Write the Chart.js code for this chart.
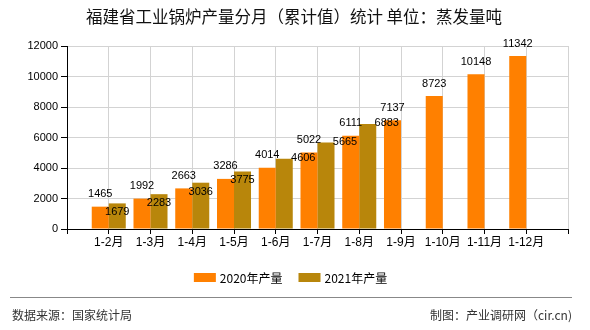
<!DOCTYPE html>
<html>
<head>
<meta charset="utf-8">
<script src="https://cdn.jsdelivr.net/npm/chart.js@4/dist/chart.umd.min.js"></script>
<style>
  body { margin: 0; background: #fff; }
  #wrap { width: 590px; height: 330px; position: relative; }
</style>
</head>
<body>
<div id="wrap"><canvas id="chart" width="590" height="330"></canvas></div>
<script>
const months = ['1-2月', '1-3月', '1-4月', '1-5月', '1-6月', '1-7月', '1-8月', '1-9月', '1-10月', '1-11月', '1-12月'];
const output2020 = [1465, 1992, 2663, 3286, 4014, 5022, 6111, 7137, 8723, 10148, 11342];
const output2021 = [1679, 2283, 3036, 3775, 4606, 5665, 6883, null, null, null, null];
const yTicks = [0, 2000, 4000, 6000, 8000, 10000, 12000];

const titleText = '福建省工业锅炉产量分月（累计值）统计 单位：蒸发量吨';
const sourceText = '数据来源：国家统计局';
const creditText = '制图：产业调研网（cir.cn)';

// empty slot on each side of the axis
const labels = [''].concat(months, ['']);
const pad = arr => [null].concat(arr, [null]);

const numFont = '11px "Liberation Sans", "Noto Sans CJK SC", sans-serif';
const cjkFont = '"Noto Sans CJK SC", sans-serif';

const decor = {
    id: 'decor',
    afterDatasetsDraw(chart) {
        const ctx = chart.ctx;
        ctx.save();
        ctx.font = numFont;
        ctx.fillStyle = '#000';
        ctx.textAlign = 'center';
        ctx.textBaseline = 'middle';
        chart.data.datasets.forEach((ds, di) => {
            const meta = chart.getDatasetMeta(di);
            meta.data.forEach((bar, i) => {
                const v = ds.data[i];
                if (v == null) return;
                let x = bar.x, y = bar.y;
                if (di === 0) {
                    y -= 12.5;
                } else if (i < 5) {
                    y += 9;
                } else {
                    x += 19;
                    y -= 1;
                }
                ctx.fillText(String(v), x, y);
            });
        });
        ctx.restore();
    },
    afterDraw(chart) {
        const ctx = chart.ctx;
        ctx.save();
        // title
        ctx.font = '16.5px ' + cjkFont;
        ctx.fillStyle = '#111';
        ctx.textAlign = 'center';
        ctx.textBaseline = 'middle';
        ctx.fillText(titleText, 294, 17);

        // legend
        ctx.font = '12px ' + cjkFont;
        const items = chart.data.datasets.map(ds => ({
            label: ds.label, color: ds.backgroundColor, w: 22 + 4 + ctx.measureText(ds.label).width
        }));
        const gap = 16;
        const total = items.reduce((s, it) => s + it.w, 0) + gap * (items.length - 1);
        let x = 290.5 - total / 2;
        ctx.textAlign = 'left';
        items.forEach(it => {
            ctx.fillStyle = it.color;
            ctx.fillRect(x, 273, 22, 9);
            ctx.fillStyle = '#000';
            ctx.fillText(it.label, x + 26, 278);
            x += it.w + gap;
        });

        // footer
        ctx.strokeStyle = '#888';
        ctx.lineWidth = 1;
        ctx.beginPath();
        ctx.moveTo(10, 297.5);
        ctx.lineTo(572, 297.5);
        ctx.stroke();
        ctx.fillStyle = '#333';
        ctx.font = '12px ' + cjkFont;
        ctx.textAlign = 'left';
        ctx.fillText(sourceText, 12, 315);
        ctx.textAlign = 'right';
        ctx.fillText(creditText, 572, 315);
        ctx.restore();
    }
};

new Chart(document.getElementById('chart'), {
    type: 'bar',
    data: {
        labels: labels,
        datasets: [
            {
                label: '2020年产量',
                data: pad(output2020),
                backgroundColor: '#FF8000',
                barPercentage: 1,
                categoryPercentage: 0.815
            },
            {
                label: '2021年产量',
                data: pad(output2021),
                backgroundColor: '#B8860B',
                barPercentage: 1,
                categoryPercentage: 0.815
            }
        ]
    },
    options: {
        responsive: false,
        animation: false,
        layout: { padding: { left: 0, top: 46, right: 22, bottom: 71 } },
        plugins: {
            legend: { display: false },
            title: { display: false },
            tooltip: { enabled: false }
        },
        scales: {
            x: {
                offset: false,
                grid: { offset: false, color: '#d3d3d3', tickColor: '#000', tickLength: 5 },
                border: { color: '#000' },
                ticks: {
                    color: '#000',
                    font: { family: '"Liberation Sans", "Noto Sans CJK SC", sans-serif', size: 12 },
                    padding: 1,
                    maxRotation: 0,
                    autoSkip: false
                },
                afterFit(scale) { scale.height = 30; }
            },
            y: {
                min: yTicks[0],
                max: yTicks[yTicks.length - 1],
                afterBuildTicks(scale) { scale.ticks = yTicks.map(v => ({ value: v })); },
                grid: { color: '#d3d3d3', tickColor: '#000', tickLength: 6 },
                border: { color: '#000' },
                ticks: {
                    color: '#000',
                    font: { family: '"Liberation Sans", sans-serif', size: 11 },
                    padding: 3,
                    callback: v => String(v)
                },
                afterFit(scale) { scale.width = 67; }
            }
        }
    },
    plugins: [decor]
});
</script>
</body>
</html>
